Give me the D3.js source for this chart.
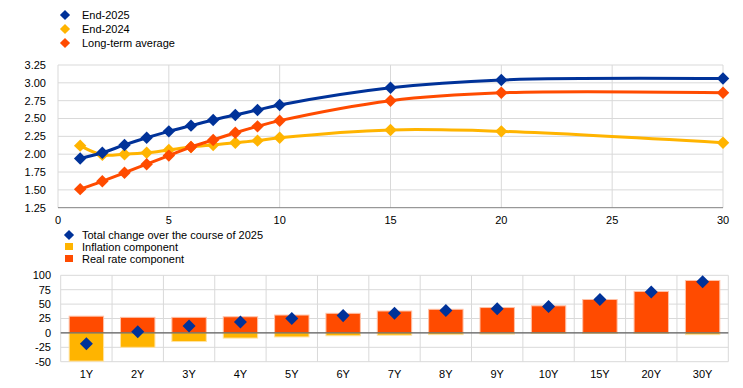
<!DOCTYPE html>
<html>
<head>
<meta charset="utf-8">
<script src="https://cdn.jsdelivr.net/npm/d3@7"></script>
<style>
  body { margin: 0; background: #fff; }
  text { font-family: "Liberation Sans", Arial, sans-serif; font-size: 11px; fill: #000; }
</style>
</head>
<body>
<script>
// yield curve, top panel
const maturities = [1, 2, 3, 4, 5, 6, 7, 8, 9, 10, 15, 20, 30];
const end2025 = [1.94, 2.02, 2.13, 2.23, 2.32, 2.40, 2.48, 2.55, 2.62, 2.69, 2.93, 3.04, 3.06];
const end2024 = [2.12, 1.99, 2.00, 2.02, 2.06, 2.10, 2.13, 2.16, 2.19, 2.23, 2.34, 2.32, 2.16];
const longTermAvg = [1.51, 1.62, 1.74, 1.86, 1.98, 2.10, 2.20, 2.30, 2.39, 2.47, 2.75, 2.86, 2.86];
const topYTicks = [1.25, 1.5, 1.75, 2, 2.25, 2.5, 2.75, 3, 3.25];
const topXTicks = [0, 5, 10, 15, 20, 25, 30];

// decomposition, bottom panel (basis points)
const tenors = ["1Y", "2Y", "3Y", "4Y", "5Y", "6Y", "7Y", "8Y", "9Y", "10Y", "15Y", "20Y", "30Y"];
const realRate = [29, 27, 27, 28, 31, 34, 38, 41, 44, 47, 58, 72, 91];
const inflation = [-49, -25, -15, -9, -7, -5, -4, -3, -2, -1, -1, -1, -3];
const totalChange = [-19, 2, 12, 19, 25, 30, 34, 39, 42, 46, 58, 71, 89];
const bottomYTicks = [-50, -25, 0, 25, 50, 75, 100];

const blue = "#003299", yellow = "#ffb400", orange = "#ff4b00", grid = "#d9d9d9";

const width = 743, height = 388;
const svg = d3.select("body").append("svg")
  .attr("width", width)
  .attr("height", height);

function diamond(g, x, y, r, color) {
  g.append("rect")
    .attr("x", -r).attr("y", -r)
    .attr("width", 2 * r).attr("height", 2 * r)
    .attr("fill", color)
    .attr("transform", `translate(${x},${y}) rotate(45)`);
}

// ---------- top legend ----------
const legTop = [["End-2025", blue], ["End-2024", yellow], ["Long-term average", orange]];
legTop.forEach((d, i) => {
  const ly = 15 + i * 14;
  diamond(svg, 65, ly, 3.6, d[1]);
  svg.append("text").attr("x", 82).attr("y", ly).attr("dy", "0.35em").text(d[0]);
});

// ---------- top chart ----------
const x = d3.scaleLinear().domain([0, 30]).range([58, 723]);
const y = d3.scaleLinear().domain([1.25, 3.25]).range([207.7, 65]);

const topG = svg.append("g");

topG.append("g").selectAll("line")
  .data(topYTicks.slice(1))
  .join("line")
  .attr("x1", x(0)).attr("x2", x(30))
  .attr("y1", d => y(d)).attr("y2", d => y(d))
  .attr("stroke", grid).attr("stroke-width", 1);

topG.append("g").selectAll("line")
  .data(topXTicks)
  .join("line")
  .attr("x1", d => x(d)).attr("x2", d => x(d))
  .attr("y1", y(3.25)).attr("y2", y(1.25))
  .attr("stroke", grid).attr("stroke-width", 1);

topG.append("line")
  .attr("x1", x(0)).attr("x2", x(30))
  .attr("y1", y(1.25)).attr("y2", y(1.25))
  .attr("stroke", "#808080").attr("stroke-width", 1);

topG.append("g").selectAll("text")
  .data(topYTicks)
  .join("text")
  .attr("x", 46).attr("y", d => y(d)).attr("dy", "0.35em")
  .attr("text-anchor", "end")
  .text(d => d.toFixed(2));

topG.append("g").selectAll("text")
  .data(topXTicks)
  .join("text")
  .attr("x", d => x(d)).attr("y", 220).attr("dy", "0.35em")
  .attr("text-anchor", "middle")
  .text(d => d);

const line = d3.line()
  .x(d => x(d[0])).y(d => y(d[1]))
  .curve(d3.curveCatmullRom.alpha(0.5));

const series = [[end2024, yellow], [longTermAvg, orange], [end2025, blue]];
series.forEach(s => {
  const pts = maturities.map((m, i) => [m, s[0][i]]);
  topG.append("path")
    .attr("d", line(pts))
    .attr("fill", "none")
    .attr("stroke", s[1])
    .attr("stroke-width", 3);
  const mk = topG.append("g");
  pts.forEach(p => diamond(mk, x(p[0]), y(p[1]), 4.4, s[1]));
});

// ---------- bottom legend ----------
diamond(svg, 69, 235, 3.6, blue);
svg.append("text").attr("x", 82).attr("y", 235).attr("dy", "0.35em").text("Total change over the course of 2025");
svg.append("rect").attr("x", 65).attr("y", 243).attr("width", 8).attr("height", 7).attr("fill", yellow);
svg.append("text").attr("x", 82).attr("y", 247).attr("dy", "0.35em").text("Inflation component");
svg.append("rect").attr("x", 65).attr("y", 255).attr("width", 8).attr("height", 7).attr("fill", orange);
svg.append("text").attr("x", 82).attr("y", 259).attr("dy", "0.35em").text("Real rate component");

// ---------- bottom chart ----------
const xb = d3.scaleBand().domain(tenors).range([60.7, 728.3]).paddingInner(0.33).paddingOuter(0.165);
const xbOuter = d3.scaleBand().domain(tenors).range([60.7, 728.3]);
const yb = d3.scaleLinear().domain([-50, 100]).range([361.7, 275.3]);

const botG = svg.append("g");

botG.append("g").selectAll("line")
  .data(bottomYTicks)
  .join("line")
  .attr("x1", 60.7).attr("x2", 728.3)
  .attr("y1", d => yb(d)).attr("y2", d => yb(d))
  .attr("stroke", grid).attr("stroke-width", 1);

botG.append("g").selectAll("line")
  .data(tenors.slice(1).concat(["end"]))
  .join("line")
  .attr("x1", d => d === "end" ? 728.3 : xbOuter(d))
  .attr("x2", d => d === "end" ? 728.3 : xbOuter(d))
  .attr("y1", yb(100)).attr("y2", yb(-50))
  .attr("stroke", grid).attr("stroke-width", 1);

botG.append("line")
  .attr("x1", 60.7).attr("x2", 60.7)
  .attr("y1", yb(100)).attr("y2", yb(-50))
  .attr("stroke", grid);

botG.append("g").selectAll("rect")
  .data(tenors)
  .join("rect")
  .attr("x", d => xb(d)).attr("width", xb.bandwidth())
  .attr("y", (d, i) => yb(realRate[i]))
  .attr("height", (d, i) => yb(0) - yb(realRate[i]))
  .attr("fill", orange)
  .attr("stroke", "#ffc2a8").attr("stroke-width", 1);

botG.append("g").selectAll("rect")
  .data(tenors)
  .join("rect")
  .attr("x", d => xb(d)).attr("width", xb.bandwidth())
  .attr("y", yb(0))
  .attr("height", (d, i) => yb(inflation[i]) - yb(0))
  .attr("fill", yellow)
  .attr("stroke", "#ffe2a0").attr("stroke-width", 1);

botG.append("line")
  .attr("x1", 60.7).attr("x2", 728.3)
  .attr("y1", yb(0)).attr("y2", yb(0))
  .attr("stroke", "#404040").attr("stroke-width", 1);

const mkb = botG.append("g");
tenors.forEach((t, i) => diamond(mkb, xb(t) + xb.bandwidth() / 2, yb(totalChange[i]), 4.6, blue));

botG.append("g").selectAll("text")
  .data(bottomYTicks)
  .join("text")
  .attr("x", 51).attr("y", d => yb(d)).attr("dy", "0.35em")
  .attr("text-anchor", "end")
  .text(d => d);

botG.append("g").selectAll("text")
  .data(tenors)
  .join("text")
  .attr("x", d => xb(d) + xb.bandwidth() / 2).attr("y", 374).attr("dy", "0.35em")
  .attr("text-anchor", "middle")
  .text(d => d);
</script>
</body>
</html>
